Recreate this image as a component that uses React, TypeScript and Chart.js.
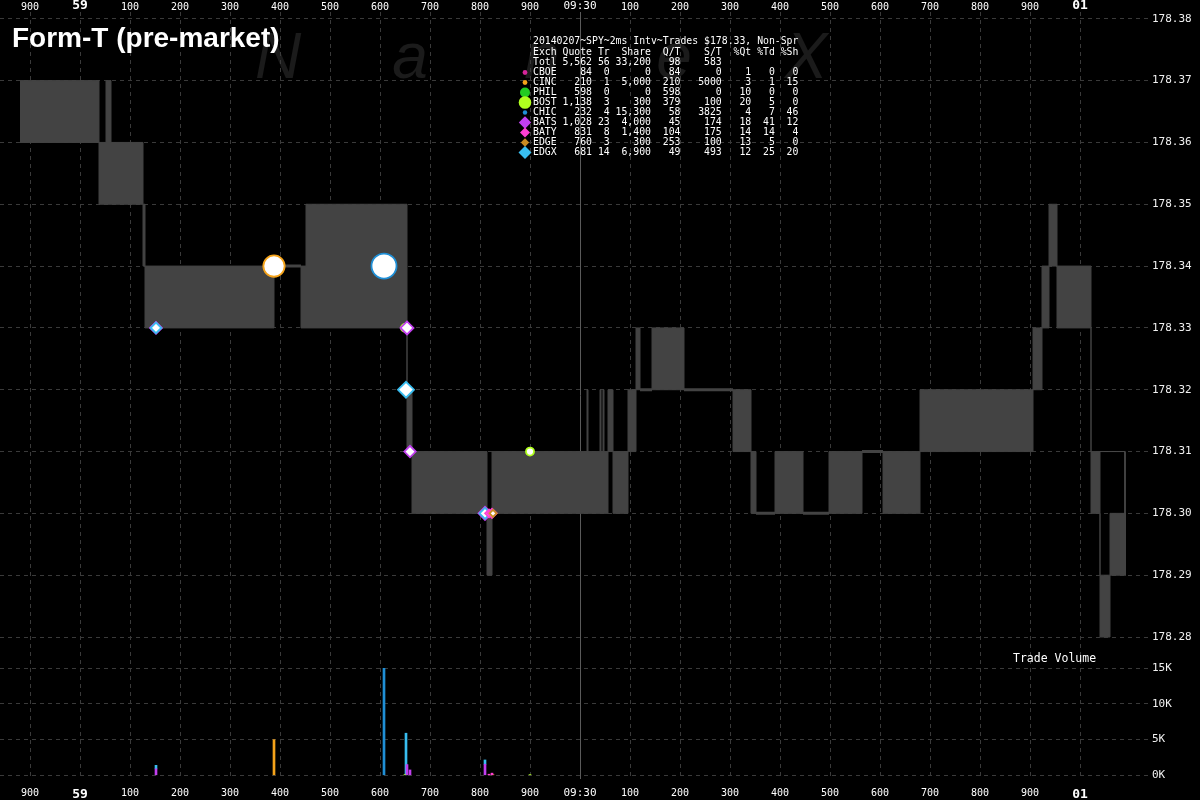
import React, { useEffect, useRef } from 'react';
import { Chart, registerables } from 'chart.js';

Chart.register(...registerables);

// ---------- time axis (milliseconds after 09:29:58.000) ----------
const TIME_MIN = 840;
const TIME_MAX = 3136;
const TIME_TICKS = [900, 1000, 1100, 1200, 1300, 1400, 1500, 1600, 1700, 1800, 1900, 2000, 2100, 2200, 2300, 2400, 2500, 2600, 2700, 2800, 2900, 3000];
const TIME_LABELS = ['900', '59', '100', '200', '300', '400', '500', '600', '700', '800', '900', '09:30', '100', '200', '300', '400', '500', '600', '700', '800', '900', '01'];

// ---------- price axis ----------
const PRICE_MIN = 178.2779;
const PRICE_MAX = 178.3811;
const PRICE_TICKS = [178.28, 178.29, 178.3, 178.31, 178.32, 178.33, 178.34, 178.35, 178.36, 178.37, 178.38];

// ---------- volume axis ----------
const VOLUME_MIN = -520;
const VOLUME_MAX = 17570;
const VOLUME_TICKS = [0, 5000, 10000, 15000];
const VOLUME_LABELS = ['0K', '5K', '10K', '15K'];

// ---------- NBBO (bid / ask step series) ----------
const NBBO_TIME = [880, 1038, 1052, 1062, 1126, 1130, 1388, 1442, 1452, 1654, 1664, 1814, 1824, 2014, 2016, 2040, 2042, 2046, 2048, 2056, 2066, 2096, 2112, 2120, 2144, 2208, 2306, 2342, 2352, 2390, 2446, 2498, 2564, 2606, 2680, 2906, 2924, 2938, 2954, 3022, 3040, 3060, 3092];
const NBBO_BID = [178.36, 178.35, 178.35, 178.35, 178.34, 178.33, 178.34, 178.33, 178.33, 178.31, 178.30, 178.29, 178.30, 178.30, 178.30, 178.30, 178.30, 178.30, 178.30, 178.31, 178.30, 178.31, 178.32, 178.32, 178.32, 178.32, 178.31, 178.30, 178.30, 178.30, 178.30, 178.30, 178.31, 178.30, 178.31, 178.32, 178.33, 178.34, 178.33, 178.30, 178.28, 178.29, 178.29];
const NBBO_ASK = [178.37, 178.36, 178.37, 178.36, 178.35, 178.34, 178.34, 178.34, 178.35, 178.32, 178.31, 178.30, 178.31, 178.32, 178.31, 178.32, 178.31, 178.32, 178.31, 178.32, 178.31, 178.32, 178.33, 178.32, 178.33, 178.32, 178.32, 178.31, 178.30, 178.31, 178.30, 178.31, 178.31, 178.31, 178.32, 178.33, 178.34, 178.35, 178.34, 178.31, 178.29, 178.30, 178.30];
const ASK_TAIL_TIME = [3040, 3090, 3090];
const ASK_TAIL_PRICE = [178.31, 178.31, 178.30];

// ---------- trades: [time, price, shares] ----------
const TRADES_CINC = [[1388, 178.34, 5000]];
const TRADES_CHIC = [[1608, 178.34, 15000]];
const TRADES_BOST = [[1650, 178.33, 100], [1900, 178.31, 100]];
const TRADES_BATS = [[1152, 178.33, 900], [1654, 178.33, 1500], [1660, 178.31, 750], [1810, 178.30, 1550]];
const TRADES_BATY = [[1818, 178.30, 150], [1824, 178.30, 300]];
const TRADES_EDGE = [[1826, 178.30, 100]];
const TRADES_EDGX = [[1152, 178.33, 500], [1652, 178.32, 5900], [1810, 178.30, 600]];

// ---------- summary table ----------
const TABLE_TITLE = '20140207~SPY~2ms Intv~Trades $178.33, Non-Spr';
const TABLE_HEAD = ['Exch', 'Quote', 'Tr', 'Share', 'Q/T', 'S/T', '%Qt', '%Td', '%Sh'];
const TOTAL_ROW = ['Totl', 5562, 56, 33200, 98, 583];
const EXCHANGES = ['CBOE', 'CINC', 'PHIL', 'BOST', 'CHIC', 'BATS', 'BATY', 'EDGE', 'EDGX'];
const QUOTES = [84, 210, 598, 1138, 232, 1028, 831, 760, 681];
const TRADE_COUNTS = [0, 1, 0, 3, 4, 23, 8, 3, 14];
const SHARES = [0, 5000, 0, 300, 15300, 4000, 1400, 300, 6900];
const QUOTES_PER_TRADE = [84, 210, 598, 379, 58, 45, 104, 253, 49];
const SHARES_PER_TRADE = [0, 5000, 0, 100, 3825, 174, 175, 100, 493];
const PCT_QUOTES = [1, 3, 10, 20, 4, 18, 14, 13, 12];
const PCT_TRADES = [0, 1, 0, 5, 7, 41, 14, 5, 25];
const PCT_SHARES = [0, 15, 0, 0, 46, 12, 4, 0, 20];

// ---------- styles ----------
const EXCH_COLOR: Record<string, string> = {
  CBOE: '#d6259a', CINC: '#f5a31a', PHIL: '#22cc22', BOST: '#b0ff1e', CHIC: '#1f8fd6',
  BATS: '#c23ff0', BATY: '#ff3fd2', EDGE: '#c98b22', EDGX: '#38bdf0',
};
const EXCH_SHAPE: Record<string, string> = {
  CBOE: 'circle', CINC: 'circle', PHIL: 'circle', BOST: 'circle', CHIC: 'circle',
  BATS: 'rectRot', BATY: 'rectRot', EDGE: 'rectRot', EDGX: 'rectRot',
};
const LEGEND_MARK_R = [2.4, 2.4, 5, 6.3, 2.2, 6.2, 5, 4.2, 6.5];
const GRAY = '#434343';
const GRID = '#3a3a3a';
const MONO = '"DejaVu Sans Mono", monospace';

const withCommas = (n: number) => String(n).replace(/\B(?=(\d{3})+(?!\d))/g, ',');
const COL_W = [4, 6, 3, 7, 5, 7, 5, 4, 4];
function formatRow(cells: string[]) {
  return cells.map((c, i) => (i === 0 ? c.padEnd(COL_W[i]) : c.padStart(COL_W[i]))).join('');
}

const circleRadius = (s: number) => 4 + 1.7 * Math.log(s / 100);
const diamondRadius = (s: number) => 3.5 + 1.1 * Math.log(s / 100);

function markerDataset(name: string, trades: number[][]) {
  const shape = EXCH_SHAPE[name];
  const radius = (ctx: any) => (shape === 'circle' ? circleRadius(ctx.raw.s) : diamondRadius(ctx.raw.s));
  return {
    type: 'scatter' as const,
    label: name,
    data: trades.map(([t, p, s]) => ({ x: t, y: p, s })),
    xAxisID: 'x',
    yAxisID: 'y',
    pointStyle: shape,
    pointRadius: radius,
    pointHoverRadius: radius,
    pointBackgroundColor: '#ffffff',
    pointBorderColor: EXCH_COLOR[name],
    pointBorderWidth: 1.8,
  };
}

function volumeDataset(name: string, trades: number[][]) {
  return {
    type: 'bar' as const,
    label: 'vol ' + name,
    data: trades.map(([t, , s]) => ({ x: t, y: s })),
    xAxisID: 'x',
    yAxisID: 'yv',
    backgroundColor: EXCH_COLOR[name],
    barThickness: 2,
    stack: 'vol',
  };
}

function lockedData() {
  const out: any[] = [];
  for (let i = 0; i < NBBO_TIME.length - 1; i++) {
    if (NBBO_BID[i] === NBBO_ASK[i]) {
      out.push({ x: NBBO_TIME[i], y: NBBO_BID[i] });
      out.push({ x: NBBO_TIME[i + 1], y: NBBO_BID[i] });
      out.push({ x: NBBO_TIME[i + 1], y: null });
    }
  }
  return out;
}

const overlayPlugin = {
  id: 'overlay',
  beforeDraw(chart: any) {
    const { ctx, width, height } = chart;
    ctx.save();
    ctx.fillStyle = '#000';
    ctx.fillRect(0, 0, width, height);
    ctx.fillStyle = '#1b1b1b';
    ctx.font = 'italic 64px "Liberation Sans", sans-serif';
    ctx.textAlign = 'center';
    ctx.textBaseline = 'alphabetic';
    ['N', 'a', 'n', 'e', 'X'].forEach((ch, i) => ctx.fillText(ch, 278 + i * 132, 78));
    ctx.restore();
  },
  afterDraw(chart: any) {
    const { ctx } = chart;
    ctx.save();
    // title
    ctx.fillStyle = '#ffffff';
    ctx.font = 'bold 28px "Liberation Sans", Arial, sans-serif';
    ctx.textAlign = 'left';
    ctx.textBaseline = 'alphabetic';
    ctx.fillText('Form-T (pre-market)', 12, 47);

    // summary table
    ctx.font = '9.8px ' + MONO;
    ctx.textBaseline = 'middle';
    const x0 = 533;
    ctx.fillText(TABLE_TITLE, x0, 41.5);
    ctx.fillText(formatRow(TABLE_HEAD), x0, 52.5);
    ctx.fillText(formatRow(TOTAL_ROW.map((v) => (typeof v === 'number' ? withCommas(v) : v)).concat(['', '', ''])), x0, 62.5);
    EXCHANGES.forEach((name, i) => {
      const y = 72.5 + i * 10;
      const row = [
        name,
        withCommas(QUOTES[i]),
        String(TRADE_COUNTS[i]),
        withCommas(SHARES[i]),
        String(QUOTES_PER_TRADE[i]),
        String(SHARES_PER_TRADE[i]),
        String(PCT_QUOTES[i]),
        String(PCT_TRADES[i]),
        String(PCT_SHARES[i]),
      ];
      ctx.fillStyle = '#ffffff';
      ctx.fillText(formatRow(row), x0, y);
      // marker
      const r = LEGEND_MARK_R[i];
      const cx = 525;
      ctx.fillStyle = EXCH_COLOR[name];
      ctx.beginPath();
      if (EXCH_SHAPE[name] === 'circle') {
        ctx.arc(cx, y, r, 0, Math.PI * 2);
      } else {
        ctx.moveTo(cx - r, y);
        ctx.lineTo(cx, y - r);
        ctx.lineTo(cx + r, y);
        ctx.lineTo(cx, y + r);
        ctx.closePath();
      }
      ctx.fill();
    });

    // volume panel label
    ctx.fillStyle = '#ffffff';
    ctx.font = '11.5px ' + MONO;
    ctx.textBaseline = 'middle';
    ctx.fillText('Trade Volume', 1013, 659);
    ctx.restore();
  },
};

const timeLabel = (v: number) => {
  const i = TIME_TICKS.indexOf(v);
  return i >= 0 ? TIME_LABELS[i] : '';
};
const timeFont = (ctx: any) => {
  const v = ctx.tick ? ctx.tick.value : 0;
  if (v % 1000 === 0 && v !== 2000) return { family: MONO, size: 13, weight: 'bold' as const };
  if (v === 2000) return { family: MONO, size: 11 };
  return { family: MONO, size: 10 };
};
const timeGridColor = (ctx: any) => (ctx.tick && ctx.tick.value === 2000 ? '#5a5a5a' : GRID);
const timeGridDash = (ctx: any) => (ctx.tick && ctx.tick.value === 2000 ? [] : [4, 4]);

export default function App() {
  const ref = useRef<HTMLCanvasElement>(null);

  useEffect(() => {
    document.body.style.margin = '0';
    document.body.style.background = '#000';
    const canvas = ref.current;
    if (!canvas) return;

    const datasets: any[] = [
      markerDataset('EDGE', TRADES_EDGE),
      markerDataset('BATY', TRADES_BATY),
      markerDataset('EDGX', TRADES_EDGX),
      markerDataset('BATS', TRADES_BATS),
      markerDataset('BOST', TRADES_BOST),
      markerDataset('CHIC', TRADES_CHIC),
      markerDataset('CINC', TRADES_CINC),
      volumeDataset('BATS', TRADES_BATS),
      volumeDataset('BATY', TRADES_BATY),
      volumeDataset('BOST', TRADES_BOST),
      volumeDataset('CINC', TRADES_CINC),
      volumeDataset('CHIC', TRADES_CHIC),
      volumeDataset('EDGE', TRADES_EDGE),
      volumeDataset('EDGX', TRADES_EDGX),
      {
        type: 'line',
        label: 'locked',
        data: lockedData(),
        xAxisID: 'x',
        yAxisID: 'y',
        borderColor: GRAY,
        borderWidth: 3,
        pointRadius: 0,
        spanGaps: false,
        fill: false,
      },
      {
        type: 'line',
        label: 'ask tail',
        data: ASK_TAIL_TIME.map((t, i) => ({ x: t, y: ASK_TAIL_PRICE[i] })),
        xAxisID: 'x',
        yAxisID: 'y',
        borderColor: '#4a4a4a',
        borderWidth: 1,
        pointRadius: 0,
        fill: false,
      },
      {
        type: 'line',
        label: 'bid',
        data: NBBO_TIME.map((t, i) => ({ x: t, y: NBBO_BID[i] })),
        xAxisID: 'x',
        yAxisID: 'y',
        stepped: true,
        borderColor: GRAY,
        borderWidth: 1,
        pointRadius: 0,
        fill: false,
      },
      {
        type: 'line',
        label: 'ask',
        data: NBBO_TIME.map((t, i) => ({ x: t, y: NBBO_ASK[i] })),
        xAxisID: 'x',
        yAxisID: 'y',
        stepped: true,
        borderColor: GRAY,
        borderWidth: 1,
        pointRadius: 0,
        fill: '-1',
        backgroundColor: GRAY,
      },
    ];

    const xCommon = {
      type: 'linear' as const,
      min: TIME_MIN,
      max: TIME_MAX,
      offset: false,
      afterBuildTicks: (s: any) => {
        s.ticks = TIME_TICKS.map((v) => ({ value: v }));
      },
    };

    const chart = new Chart(canvas, {
      type: 'line',
      data: { datasets },
      options: {
        responsive: false,
        animation: false,
        devicePixelRatio: 1,
        events: [],
        layout: { padding: 0, autoPadding: false },
        plugins: {
          legend: { display: false },
          tooltip: { enabled: false },
          title: { display: false },
        },
        scales: {
          x: {
            ...xCommon,
            position: 'bottom',
            afterFit: (s: any) => {
              s.height = 21;
              s.paddingLeft = 0;
              s.paddingRight = 0;
            },
            ticks: {
              color: '#ffffff',
              padding: 8,
              autoSkip: false,
              maxRotation: 0,
              callback: (v: any) => timeLabel(Number(v)),
              font: timeFont,
            },
            grid: { color: timeGridColor, drawTicks: false, lineWidth: 1, offset: false },
            border: { display: false, dash: timeGridDash },
          },
          x2: {
            ...xCommon,
            position: 'top',
            afterFit: (s: any) => {
              s.height = 12;
              s.paddingLeft = 0;
              s.paddingRight = 0;
            },
            ticks: {
              color: '#ffffff',
              padding: -1,
              autoSkip: false,
              maxRotation: 0,
              callback: (v: any) => timeLabel(Number(v)),
              font: timeFont,
            },
            grid: { display: false, drawTicks: false, offset: false },
            border: { display: false },
          },
          y: {
            type: 'linear',
            position: 'right',
            stack: 'panels',
            stackWeight: 638,
            min: PRICE_MIN,
            max: PRICE_MAX,
            afterBuildTicks: (s: any) => {
              s.ticks = PRICE_TICKS.map((v) => ({ value: v }));
            },
            afterFit: (s: any) => {
              s.width = 52;
              s.paddingTop = 0;
              s.paddingBottom = 0;
            },
            ticks: {
              color: '#f0f0f0',
              padding: 4,
              font: { family: MONO, size: 11 },
              callback: (v: any) => Number(v).toFixed(2),
            },
            grid: { color: GRID, drawTicks: false },
            border: { display: false, dash: [4, 4] },
          },
          yv: {
            type: 'linear',
            position: 'right',
            stack: 'panels',
            stackWeight: 129,
            stacked: true,
            min: VOLUME_MIN,
            max: VOLUME_MAX,
            afterBuildTicks: (s: any) => {
              s.ticks = VOLUME_TICKS.map((v) => ({ value: v }));
            },
            afterFit: (s: any) => {
              s.width = 52;
              s.paddingTop = 0;
              s.paddingBottom = 0;
            },
            ticks: {
              color: '#f0f0f0',
              padding: 4,
              font: { family: MONO, size: 11 },
              callback: (v: any) => {
                const i = VOLUME_TICKS.indexOf(Number(v));
                return i >= 0 ? VOLUME_LABELS[i] : '';
              },
            },
            grid: { color: GRID, drawTicks: false },
            border: { display: false, dash: [4, 4] },
          },
        },
      } as any,
      plugins: [overlayPlugin],
    });

    return () => chart.destroy();
  }, []);

  return (
    <div style={{ width: 1200, height: 800, background: '#000' }}>
      <canvas ref={ref} width={1200} height={800} style={{ display: 'block', width: 1200, height: 800 }} />
    </div>
  );
}
